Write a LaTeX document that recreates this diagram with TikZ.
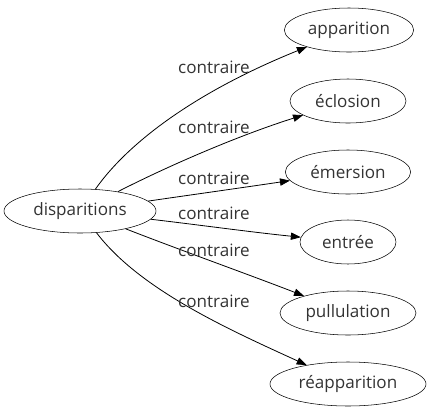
\documentclass[tikz,border=0pt]{standalone}
\usepackage{fontspec}
\setmainfont{Open Sans}
\usetikzlibrary{arrows.meta,shapes.geometric}
\begin{document}
\begin{tikzpicture}[x=0.75pt,y=-0.75pt,
  word/.style={draw,ellipse,inner sep=0pt,font=\fontsize{12.8pt}{14pt}\selectfont,text=black!80},
  rel/.style={font=\fontsize{12.8pt}{14pt}\selectfont,text=black!80},
  edge/.style={-{Triangle[length=7.5pt,width=5.5pt]},line width=0.6pt}]
\useasboundingbox (0,0) rectangle (430,419);
\node[word,minimum width=114pt,minimum height=33pt] (disp) at (80,211) {disparitions};
\node[word,minimum width=97pt,minimum height=33pt] (app) at (349,30) {apparition};
\node[word,minimum width=87pt,minimum height=33pt] (ecl) at (348,101) {éclosion};
\node[word,minimum width=94pt,minimum height=33pt] (emer) at (348,172) {émersion};
\node[word,minimum width=72pt,minimum height=33pt] (ent) at (348,242) {entrée};
\node[word,minimum width=102pt,minimum height=33pt] (pull) at (348,313) {pullulation};
\node[word,minimum width=117pt,minimum height=33pt] (reap) at (348,384) {réapparition};
\draw[edge] (disp) .. controls (130,140) and (200,90) .. (app);
\draw[edge] (disp) .. controls (170,165) and (240,135) .. (ecl);
\draw[edge] (disp) .. controls (190,195) and (240,188) .. (emer);
\draw[edge] (disp) .. controls (200,225) and (250,232) .. (ent);
\draw[edge] (disp) .. controls (180,250) and (250,275) .. (pull);
\draw[edge] (disp) .. controls (140,290) and (230,330) .. (reap);
\node[rel] (l1) at (214,67) {contraire};
\node[rel] (l2) at (214,127) {contraire};
\node[rel] (l3) at (214,178) {contraire};
\node[rel] (l4) at (214,213) {contraire};
\node[rel] (l5) at (214,250) {contraire};
\node[rel] (l6) at (214,301) {contraire};
\end{tikzpicture}
\end{document}
